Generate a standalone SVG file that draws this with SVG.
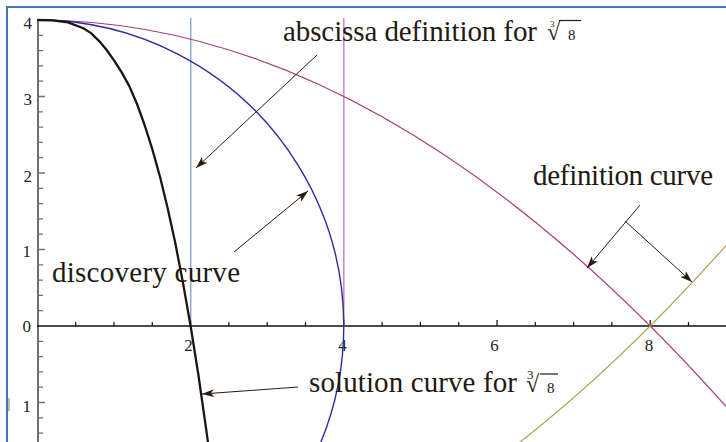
<svg xmlns="http://www.w3.org/2000/svg" width="726" height="442" viewBox="0 0 726 442">
<style>
.lbl{font-family:"Liberation Serif","Times New Roman",serif;fill:#231a12}
.tick{font-family:"Liberation Serif","Times New Roman",serif;font-size:17px;fill:#222}
.arr{stroke:#2a1a10;stroke-width:1;fill:none;marker-end:url(#ah)}
.curve{fill:none}
</style>
<defs>
<marker id="ah" viewBox="0 0 12 8" refX="12" refY="4" markerWidth="12" markerHeight="8" markerUnits="userSpaceOnUse" orient="auto">
<path d="M0,0 L12,4 L0,8 L3,4 z" fill="#2a1a10"/>
</marker>
</defs>
<rect width="726" height="442" fill="#fff"/>
<g id="frame">
<path d="M7,442 V7 H726" fill="none" stroke="#4472c4" stroke-width="2"/>
<rect x="8" y="398" width="2" height="13" fill="#bdbdbd"/>
</g>
<g id="axes">
<line x1="38" y1="19" x2="38" y2="442" stroke="#707070" stroke-width="2"/>
<path d="M38,20h7M38,35.3h5M38,50.6h5M38,65.9h5M38,81.2h5M38,96.5h7M38,111.8h5M38,127.1h5M38,142.4h5M38,157.7h5M38,173h7M38,188.3h5M38,203.6h5M38,218.9h5M38,234.2h5M38,249.5h7M38,264.8h5M38,280.1h5M38,295.4h5M38,310.7h5M38,341.3h5M38,356.6h5M38,371.9h5M38,387.2h5M38,402.5h7M38,417.8h5M38,433.1h5" stroke="#707070" stroke-width="1.3"/>
<line x1="37" y1="326" x2="726" y2="326" stroke="#111" stroke-width="1.6"/>
<path d="M75.7,326v-4M114,326v-4M152.3,326v-4M190.6,326v-6M228.9,326v-4M267.2,326v-4M305.5,326v-4M343.8,326v-6M382.1,326v-4M420.4,326v-4M458.7,326v-4M497,326v-6M535.3,326v-4M573.6,326v-4M611.9,326v-4M650.2,326v-6M688.5,326v-4" stroke="#111" stroke-width="1.2"/>
<g class="tick" text-anchor="end">
<text x="32" y="29">4</text>
<text x="32" y="105">3</text>
<text x="32" y="181.5">2</text>
<text x="31" y="257">1</text>
<text x="31" y="332">0</text>
<text x="31" y="411.5">1</text>
</g>
<g class="tick" text-anchor="middle">
<text x="188.5" y="351">2</text>
<text x="342.5" y="351">4</text>
<text x="494.5" y="351">6</text>
<text x="649" y="351">8</text>
</g>
</g>
<g id="verticals">
<line x1="190.7" y1="18" x2="190.7" y2="326" stroke="#8fa6d6" stroke-width="1.5"/>
<line x1="343.8" y1="18" x2="343.8" y2="326" stroke="#c78ac8" stroke-width="1.5"/>
</g>
<g id="definition-curve-1">
<path class="curve" d="M37.4,20 Q382.1,20 726.8,407.3" stroke="#a83a7c" stroke-width="1.2"/>
</g>
<g id="definition-curve-2">
<path class="curve" d="M497,459.9 Q611.9,373.8 726.8,244.7" stroke="#ada052" stroke-width="1.2"/>
</g>
<g id="circle">
<path class="curve" d="M37.4,20 A306.4,306 0 0 1 311,463.7" stroke="#2c2ca0" stroke-width="1.4"/>
</g>
<g id="discovery-curve">
<polyline class="curve" points="37.4,20 52.7,20.3 68,22.4 83.4,28.3 91,33.1 98.7,40.6 106.3,49.5 114,60.3 121.7,72.4 129.3,86.1 137,104 144.6,125 152.3,149.1 160,176.7 167.6,207.9 175.3,243.1 182.9,282.4 190.6,326 198.3,374.2 205.9,427.3 209.8,455.7" stroke="#1e1410" stroke-width="2.3" stroke-linejoin="round"/>
</g>
<g id="label-abscissa">
<text class="lbl" x="283" y="41" font-size="29" textLength="254" lengthAdjust="spacing">abscissa definition for</text>
<text class="lbl" x="550" y="27"><tspan font-size="9">3</tspan><tspan x="547" y="40" font-size="24">√</tspan><tspan x="568" y="40" font-size="15">8</tspan></text>
<line x1="559" y1="20.5" x2="581" y2="20.5" stroke="#231a12" stroke-width="1.2"/>
</g>
<g id="label-definition">
<text class="lbl" x="533" y="185" font-size="29" textLength="180" lengthAdjust="spacing">definition curve</text>
</g>
<g id="label-discovery">
<text class="lbl" x="52" y="282" font-size="29" textLength="188" lengthAdjust="spacing">discovery curve</text>
</g>
<g id="label-solution">
<text class="lbl" x="309" y="392" font-size="29" textLength="208" lengthAdjust="spacing">solution curve for</text>
<text class="lbl" x="527" y="379"><tspan font-size="13">3</tspan><tspan x="526" y="392" font-size="24">√</tspan><tspan x="547" y="393" font-size="15">8</tspan></text>
<line x1="540" y1="374" x2="558" y2="374" stroke="#231a12" stroke-width="1.2"/>
</g>
<g id="connectors">
<line class="arr" x1="317" y1="55" x2="196" y2="168"/>
<line class="arr" x1="234" y1="252" x2="308" y2="191"/>
<line class="arr" x1="298" y1="387" x2="202" y2="394"/>
<line class="arr" x1="640" y1="205" x2="587" y2="268"/>
<line class="arr" x1="625" y1="221" x2="692" y2="282"/>
</g>
</svg>
